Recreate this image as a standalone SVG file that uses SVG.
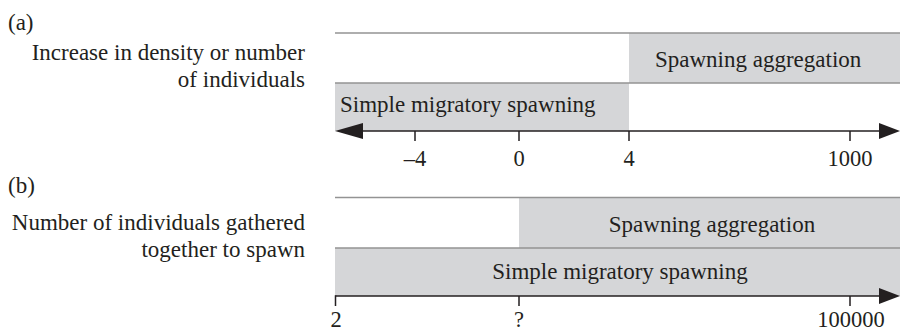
<svg xmlns="http://www.w3.org/2000/svg" width="900" height="333" viewBox="0 0 900 333">
  <style>
    text { font-family: "Liberation Serif", "Times New Roman", serif; font-size: 23px; fill: #231f20; }
    .num { font-size: 22.5px; }
    .end { text-anchor: end; }
    .mid { text-anchor: middle; }
    .band { fill: #d5d6d8; }
    .rule { stroke: #939393; stroke-width: 1.6; fill: none; }
    .axis { stroke: #231f20; stroke-width: 1.5; fill: none; }
    .head { fill: #231f20; }
  </style>

  <!-- Panel (a) -->
  <g id="panel-a-labels">
    <text x="8" y="30">(a)</text>
    <text class="end" x="305" y="60">Increase in density or number</text>
    <text class="end" x="305" y="87">of individuals</text>
  </g>
  <g id="a-aggregation">
    <rect class="band" x="629" y="33" width="271" height="50"/>
    <text x="655" y="66.5">Spawning aggregation</text>
  </g>
  <g id="a-migratory">
    <rect class="band" x="335" y="83" width="294" height="48"/>
    <text x="340" y="112">Simple migratory spawning</text>
  </g>
  <g id="a-rules">
    <line class="rule" x1="335" y1="33" x2="900" y2="33"/>
    <line class="rule" x1="335" y1="83" x2="900" y2="83"/>
  </g>

  <!-- Panel (b) -->
  <g id="panel-b-labels">
    <text x="8" y="193">(b)</text>
    <text class="end" x="305" y="230">Number of individuals gathered</text>
    <text class="end" x="305" y="257">together to spawn</text>
  </g>
  <g id="b-aggregation">
    <rect class="band" x="519" y="197.5" width="381" height="50.5"/>
    <text class="mid" x="712" y="232">Spawning aggregation</text>
  </g>
  <g id="b-migratory">
    <rect class="band" x="335" y="248" width="565" height="48"/>
    <text class="mid" x="620" y="279">Simple migratory spawning</text>
  </g>
  <g id="b-rules">
    <line class="rule" x1="335" y1="197.5" x2="900" y2="197.5"/>
    <line class="rule" x1="335" y1="248" x2="900" y2="248"/>
  </g>

  <!-- Axes with ticks and arrowheads -->
  <g id="connectors">
    <line class="axis" x1="355" y1="131" x2="885" y2="131"/>
    <polygon class="head" points="335,131 363,123 363,139"/>
    <polygon class="head" points="900,131 879,123 879,139"/>
    <path class="axis" d="M415,131V141M519,131V141M629,131V141M850,131V141"/>

    <line class="axis" x1="335.5" y1="296" x2="885" y2="296"/>
    <polygon class="head" points="900,296 879,288 879,304"/>
    <path class="axis" d="M335.5,295.3V306M519,296V306M850,296V306"/>
  </g>

  <g id="tick-labels">
    <text class="num mid" x="415" y="166">–4</text>
    <text class="num mid" x="519" y="166">0</text>
    <text class="num mid" x="629" y="166">4</text>
    <text class="num mid" x="850" y="166">1000</text>
    <text class="num mid" x="336" y="327">2</text>
    <text class="num mid" x="519" y="327">?</text>
    <text class="num mid" x="851" y="327">100000</text>
  </g>
</svg>
